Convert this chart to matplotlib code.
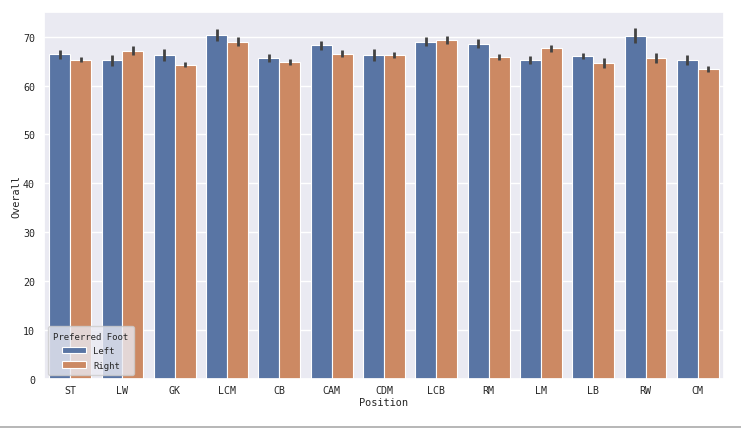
import matplotlib
matplotlib.use("Agg")
import matplotlib.pyplot as plt
import seaborn as sns
import numpy as np
from matplotlib.lines import Line2D

positions = ["ST", "LW", "GK", "LCM", "CB", "CAM", "CDM", "LCB", "RM", "LM", "LB", "RW", "CM"]
left_vals = [66.4, 65.2, 66.3, 70.3, 65.6, 68.2, 66.3, 69.0, 68.6, 65.3, 66.0, 70.2, 65.3]
right_vals = [65.3, 67.1, 64.3, 69.0, 64.8, 66.5, 66.3, 69.4, 65.9, 67.6, 64.6, 65.7, 63.4]
left_err = [0.9, 1.15, 1.2, 1.2, 0.85, 1.0, 1.2, 0.9, 0.9, 0.8, 0.6, 1.5, 1.05]
right_err = [0.5, 0.9, 0.55, 0.9, 0.6, 0.75, 0.6, 0.8, 0.6, 0.7, 1.0, 1.05, 0.6]
hue_labels = ["Left", "Right"]

sns.set_theme(style="darkgrid")
plt.rcParams['font.family'] = ['DejaVu Sans Mono', 'DejaVu Sans']

fig = plt.figure(figsize=(7.41, 4.31), dpi=100)
W, H = 741, 431
ax = fig.add_axes([44 / W, (H - 380) / H, (724 - 44) / W, (380 - 13) / H])

colors = ["#5975a4", "#cc8963"]
x = np.arange(len(positions))
bw = 0.4
for i, (vals, errs) in enumerate([(left_vals, left_err), (right_vals, right_err)]):
    xs = x - 0.2 + i * bw
    ax.bar(xs, vals, width=bw, color=colors[i], edgecolor="white", linewidth=0.8,
           label=hue_labels[i], zorder=2)
    for xx, v, e in zip(xs, vals, errs):
        ax.plot([xx, xx], [v - e, v + e], color=".26", lw=2.0, solid_capstyle="butt", zorder=3)

ax.grid(False, axis="x")
ax.set_xlim(-0.5, len(positions) - 0.5)
ax.set_ylim(0, 75.05)
ax.set_yticks(range(0, 71, 10))
ax.set_xticks(x)
ax.set_xticklabels(positions)
ax.tick_params(axis="x", labelsize=7.2, length=0, pad=4)
ax.tick_params(axis="y", labelsize=7.2, length=0, pad=6.5)
ax.set_xlabel("Position", fontsize=7.4, labelpad=1.5)
ax.set_ylabel("Overall", fontsize=7.4, labelpad=1.5)

leg = ax.legend(title="Preferred Foot", loc="lower left", fontsize=6.5, title_fontsize=6.5,
                borderaxespad=0.45, handlelength=2.6, handleheight=0.8, labelspacing=0.6,
                borderpad=0.6)

fig.add_artist(Line2D([0, 1], [(H - 428) / H, (H - 428) / H], transform=fig.transFigure,
                      color="#aaaaaa", lw=1.2))

fig.savefig("out.png", dpi=100, facecolor="white")
